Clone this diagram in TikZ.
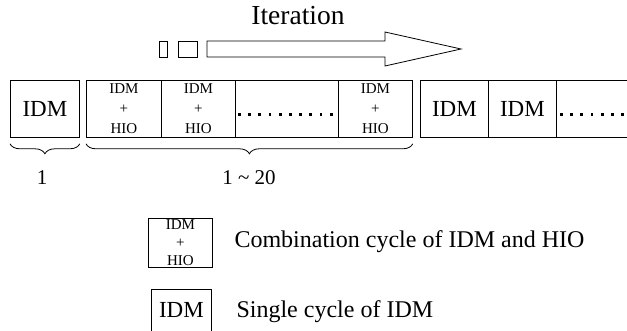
\documentclass[tikz,border=0pt]{standalone}
\usepackage{fontspec}
\setmainfont{Liberation Serif}
\usetikzlibrary{calc,decorations.pathreplacing}

\tikzset{
  cell/.style={draw, line width=0.8pt, inner sep=0pt, minimum height=57pt, anchor=north west},
  combo/.style={cell, align=center, font=\fontsize{15}{19.8}\selectfont},
  single/.style={cell, font=\fontsize{23}{27}\selectfont},
  cbrace/.style={decorate, decoration={brace, mirror, amplitude=10pt}, line width=0.8pt},
  lbl/.style={anchor=base, font=\fontsize{21}{25}\selectfont},
  keytxt/.style={anchor=base west, font=\fontsize{24}{28}\selectfont},
}

\begin{document}
\begin{tikzpicture}[x=1pt, y=-1pt]
  \useasboundingbox (0,0) rectangle (627,331);
  \clip (0,0) rectangle (627,331);

  % 反復の矢印
  \node[anchor=base, font=\fontsize{27.5}{30}\selectfont] (iter) at (298,25) {Iteration};
  \draw[line width=0.8pt] (159,41) rectangle (167,57);
  \draw[line width=0.8pt] (178,41) rectangle (197,57);
  \draw[line width=0.8pt] (207,41) -- (385,41) -- (385,32) -- (461,49)
    -- (385,66) -- (385,57) -- (207,57) -- cycle;

  % 最初のIDM
  \node[single, minimum width=69pt] (s0) at (10,80) {IDM};

  % IDM+HIOの組
  \node[combo, minimum width=75pt] (c1) at (86,80) {IDM\\+\\HIO};
  \node[combo, minimum width=74pt] (c2) at (161,80) {IDM\\+\\HIO};
  \node[cell, minimum width=103pt] (cdots) at (235,80) {};
  \node[combo, minimum width=74pt] (cn) at (338,80) {IDM\\+\\HIO};
  \foreach \i in {0,...,9}
    \fill ($(cdots.west)+(3+\i*10.2,4)$) rectangle +(2.8,2.8);

  % そのあとのIDM (右端は切れている)
  \node[single, minimum width=68pt] (s1) at (420,80) {IDM};
  \node[single, minimum width=68pt] (s2) at (488,80) {IDM};
  \node[cell, minimum width=80pt] (stail) at (556,80) {};
  \foreach \i in {0,...,6}
    \fill ($(stail.west)+(4+\i*10.2,4)$) rectangle +(2.8,2.8);

  % 括弧と回数
  \draw[cbrace] ($(s0.south west)+(0,6)$) -- ($(s0.south east)+(0,6)$);
  \draw[cbrace] ($(c1.south west)+(0,6)$) -- ($(cn.south east)+(0,6)$);
  \node[lbl] (one) at (42,185) {1};
  \node[lbl] (range) at (249,185) {1 \textasciitilde{} 20};

  % 凡例
  \node[combo, minimum width=64pt, minimum height=49pt, font=\fontsize{15}{17.8}\selectfont] (keycombo) at (148,218) {IDM\\+\\HIO};
  \node[keytxt] (keycombotxt) at (231,248) {Combination cycle of IDM and HIO};
  \node[single, minimum width=60pt, minimum height=50pt, text depth=9pt] (keysingle) at (151,289) {IDM};
  \node[keytxt] (keysingletxt) at (233,317) {Single cycle of IDM};
\end{tikzpicture}
\end{document}
